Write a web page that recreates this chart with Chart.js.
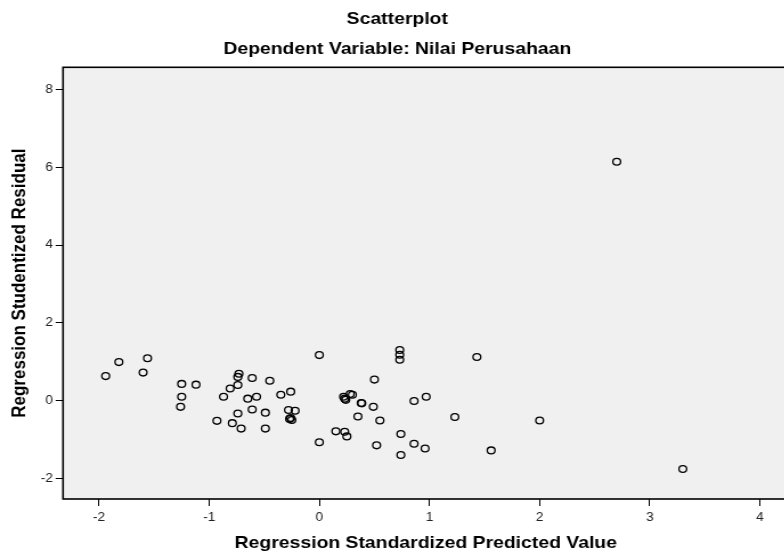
<!DOCTYPE html>
<html>
<head>
<meta charset="utf-8">
<title>Scatterplot</title>
<script src="https://cdn.jsdelivr.net/npm/chart.js@4.4.1/dist/chart.umd.min.js"></script>
<style>
  html, body { margin: 0; padding: 0; background: #fff; overflow: hidden; }
  #wrap { width: 784px; height: 553px; overflow: hidden; }
  /* the source picture is stretched sideways, so the canvas is too */
  #chart { display: block; transform: scaleX(1.14); transform-origin: 0 0; }
</style>
</head>
<body>
<div id="wrap"><canvas id="chart" width="697" height="553"></canvas></div>
<script>
// Regression Standardized Predicted Value (x)
const predicted = [
  -1.94, -1.82, -1.60, -1.56, -1.25, -1.12, -1.25, -1.26,
  -0.73, -0.74, -0.74, -0.81, -0.87, -0.61, -0.45, -0.65, -0.57, -0.35, -0.26,
  -0.61, -0.74, -0.49, -0.93, -0.79, -0.71, -0.49,
  -0.28, -0.22, -0.26, -0.25, -0.27,
  0.00, 0.73, 0.73, 0.73, 0.50, 0.86, 0.22, 0.23, 0.24, 0.28, 0.30, 0.38, 0.385,
  0.49, 0.35, 0.55, 0.15, 0.23, 0.25, 0.00, 0.52, 0.74, 0.74, 0.86,
  1.43, 0.97, 1.23, 2.00, 0.96, 1.56, 3.30, 2.70
];

// Regression Studentized Residual (y)
const residual = [
  0.63, 0.99, 0.72, 1.09, 0.43, 0.41, 0.10, -0.16,
  0.69, 0.61, 0.40, 0.31, 0.10, 0.58, 0.51, 0.05, 0.10, 0.15, 0.23,
  -0.23, -0.33, -0.31, -0.52, -0.58, -0.72, -0.72,
  -0.24, -0.26, -0.45, -0.50, -0.47,
  1.17, 1.30, 1.18, 1.05, 0.54, -0.01, 0.10, 0.05, 0.02, 0.17, 0.15, -0.06, -0.07,
  -0.16, -0.41, -0.51, -0.79, -0.80, -0.92, -1.07, -1.15, -0.86, -1.40, -1.11,
  1.12, 0.10, -0.42, -0.51, -1.23, -1.28, -1.76, 6.14
];

const xTicks = [-2, -1, 0, 1, 2, 3, 4];
const yTicks = [-2, 0, 2, 4, 6, 8];

const FONT = "'Liberation Sans', Arial, sans-serif";

// grey plot background and the black frame around it
const plotFrame = {
  id: 'plotFrame',
  beforeDraw: (chart) => {
    const { ctx, chartArea: a } = chart;
    ctx.save();
    ctx.fillStyle = '#f0f0f0';
    ctx.fillRect(a.left, a.top, a.right - a.left, a.bottom - a.top);
    ctx.restore();
  },
  afterDraw: (chart) => {
    const { ctx, chartArea: a } = chart;
    ctx.save();
    ctx.strokeStyle = '#000';
    ctx.lineWidth = 1.6;
    ctx.strokeRect(a.left, a.top, a.right - a.left, a.bottom - a.top);
    ctx.restore();
  }
};

new Chart(document.getElementById('chart'), {
  type: 'scatter',
  data: {
    datasets: [{
      data: predicted.map((x, i) => ({ x: x, y: residual[i] })),
      pointStyle: 'circle',
      pointRadius: 3.4,
      backgroundColor: 'rgba(0,0,0,0)',
      borderColor: '#000',
      borderWidth: 1.3
    }]
  },
  options: {
    responsive: false,
    animation: false,
    layout: { padding: 0 },
    plugins: {
      legend: { display: false },
      tooltip: { enabled: false },
      title: {
        display: true,
        text: 'Scatterplot',
        color: '#000',
        font: { family: FONT, size: 17, weight: 'bold' },
        padding: { top: 9.3, bottom: 2 }
      },
      subtitle: {
        display: true,
        text: 'Dependent Variable: Nilai Perusahaan',
        color: '#000',
        font: { family: FONT, size: 17, weight: 'bold' },
        padding: { top: 7.3, bottom: 7.9 }
      }
    },
    scales: {
      x: {
        type: 'linear',
        position: 'bottom',
        min: -2.327,
        max: 4.26,
        afterBuildTicks: (axis) => { axis.ticks = xTicks.map(v => ({ value: v })); },
        afterFit: (axis) => { axis.height = 54; },
        border: { display: false },
        grid: {
          drawOnChartArea: false,
          drawTicks: true,
          tickLength: 7,
          tickColor: '#000',
          color: '#000',
          lineWidth: 1
        },
        ticks: {
          color: '#222',
          font: { family: FONT, size: 12 },
          padding: 4,
          maxRotation: 0
        },
        title: {
          display: true,
          text: 'Regression Standardized Predicted Value',
          color: '#000',
          font: { family: FONT, size: 17, weight: 'bold' },
          padding: { top: 0, bottom: -1 }
        }
      },
      y: {
        type: 'linear',
        min: -2.53,
        max: 8.57,
        afterBuildTicks: (axis) => { axis.ticks = yTicks.map(v => ({ value: v })); },
        afterFit: (axis) => { axis.width = 55.3; },
        border: { display: false },
        grid: {
          drawOnChartArea: false,
          drawTicks: true,
          tickLength: 6.5,
          tickColor: '#000',
          color: '#000',
          lineWidth: 1
        },
        ticks: {
          color: '#222',
          font: { family: FONT, size: 12 },
          padding: 2.4
        },
        title: {
          display: true,
          text: 'Regression Studentized Residual',
          color: '#000',
          font: { family: FONT, size: 17, weight: 'bold' },
          padding: { top: 7.3, bottom: 0 }
        }
      }
    }
  },
  plugins: [plotFrame]
});
</script>
</body>
</html>
